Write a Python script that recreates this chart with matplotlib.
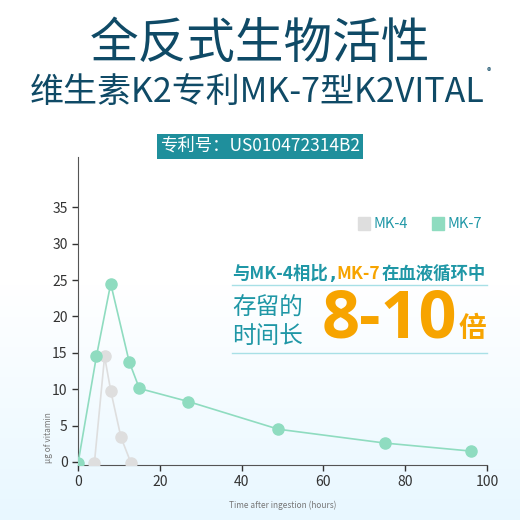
import matplotlib
matplotlib.use("Agg")
import matplotlib.pyplot as plt
import numpy as np

plt.rcParams['font.family'] = ['Noto Sans CJK SC', 'DejaVu Sans']

mk7_x = [0, 4.5, 8, 12.5, 15, 27, 49, 75, 96]
mk7_y = [-0.2, 14.5, 24.5, 13.8, 10.1, 8.3, 4.5, 2.6, 1.5]
mk4_x = [4, 6.5, 8, 10.5, 13]
mk4_y = [-0.2, 14.5, 9.8, 3.4, -0.2]
xticks = [0, 20, 40, 60, 80, 100]
yticks = [0, 5, 10, 15, 20, 25, 30, 35]

NAVY = '#0f4a66'
TEAL = '#1f97a6'
GREEN = '#8fdcc0'
GREY = '#dedede'
ORANGE = '#f7a400'

fig = plt.figure(figsize=(5.2, 5.2), dpi=100)
bg = fig.add_axes([0, 0, 1, 1], zorder=-10)
grad = np.linspace(0, 1, 256)[:, None]
alpha = np.clip((grad - 0.55) / 0.45, 0, 1)
img = np.ones((256, 2, 4))
img[..., 0] = 1 - 0.09 * alpha
img[..., 1] = 1 - 0.03 * alpha
img[..., 2] = 1
bg.imshow(img, aspect='auto', extent=[0, 1, 0, 1], origin='upper')
bg.axis('off')

fig.text(0.5, 0.915, '全反式生物活性', ha='center', va='center', fontsize=35, color=NAVY)
fig.text(0.495, 0.822, '维生素K2专利MK-7型K2VITAL', ha='center', va='center', fontsize=24.5, color=NAVY)
fig.text(0.94, 0.862, '®', ha='center', va='center', fontsize=6.5, color=NAVY)
fig.text(0.5, 0.719, '专利号：US010472314B2', ha='center', va='center', fontsize=12.5, color='white',
         bbox=dict(boxstyle='square,pad=0.2', fc='#1f8f9c', ec='none'))

ax = fig.add_axes([0.15, 0.106, 0.7865, 0.592])
ax.set_facecolor('none')
ax.plot(mk4_x, mk4_y, color=GREY, lw=1.2, marker='o', ms=8, mfc=GREY, mec=GREY, zorder=3)
ax.plot(mk7_x, mk7_y, color=GREEN, lw=1.2, marker='o', ms=8, mfc=GREEN, mec=GREEN, zorder=4)
ax.set_xlim(0, 100)
ax.set_ylim(-0.4, 41.9)
ax.set_xticks(xticks)
ax.set_yticks(yticks)
ax.tick_params(labelsize=10, colors='#333333', length=4, width=1)
for s in ['top', 'right']:
    ax.spines[s].set_visible(False)
for s in ['left', 'bottom']:
    ax.spines[s].set_color('#555555')
ax.set_xlabel('Time after ingestion (hours)', fontsize=6, color='#777777', labelpad=8)
ax.set_ylabel('µg of vitamin', fontsize=6, color='#777777', labelpad=0)
ax.yaxis.set_label_coords(-0.06, 0.09)

fig.add_artist(plt.Rectangle((0.688, 0.558), 0.024, 0.024, color=GREY, transform=fig.transFigure))
fig.text(0.718, 0.570, 'MK-4', fontsize=10.5, color=TEAL, va='center')
fig.add_artist(plt.Rectangle((0.83, 0.558), 0.024, 0.024, color=GREEN, transform=fig.transFigure))
fig.text(0.86, 0.570, 'MK-7', fontsize=10.5, color=TEAL, va='center')

fig.text(0.447, 0.474, '与MK-4相比', fontsize=12.5, fontweight='bold', color=TEAL, va='center')
fig.text(0.633, 0.474, ',', fontsize=12.5, fontweight='bold', color=TEAL, va='center', fontfamily='DejaVu Sans')
fig.text(0.646, 0.474, 'MK-7', fontsize=12.5, fontweight='bold', color=ORANGE, va='center')
fig.text(0.734, 0.474, '在血液循环中', fontsize=12.5, fontweight='bold', color=TEAL, va='center')
fig.add_artist(plt.Line2D([0.447, 0.937], [0.452, 0.452], color='#a8e0e6', lw=1, transform=fig.transFigure))
fig.add_artist(plt.Line2D([0.447, 0.937], [0.321, 0.321], color='#a8e0e6', lw=1, transform=fig.transFigure))
fig.text(0.447, 0.408, '存留的', fontsize=17, color=TEAL, va='center')
fig.text(0.447, 0.352, '时间长', fontsize=17, color=TEAL, va='center')
fig.text(0.618, 0.385, '8-10', fontsize=48, fontweight='bold', color=ORANGE, va='center', fontfamily='Open Sans')
fig.text(0.881, 0.368, '倍', fontsize=20, fontweight='bold', color=ORANGE, va='center')

fig.savefig('out.png', dpi=100)
